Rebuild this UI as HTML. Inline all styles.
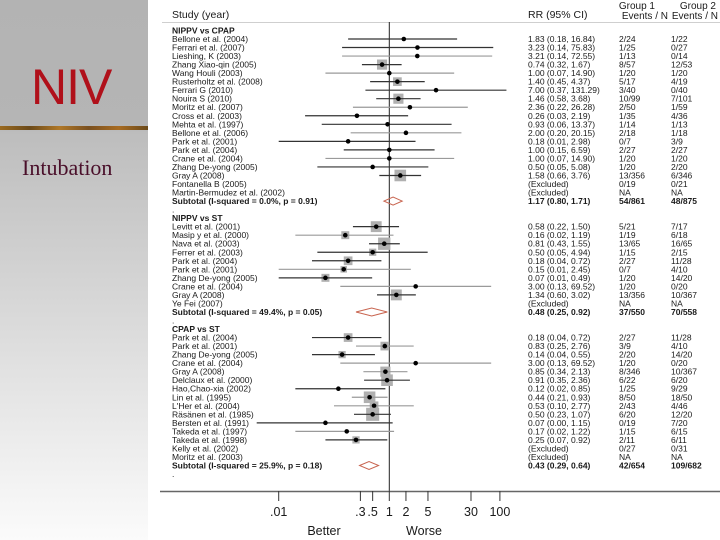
<!DOCTYPE html>
<html><head><meta charset="utf-8"><style>
html,body{margin:0;padding:0;background:#fff;}
#wrap{position:relative;width:720px;height:540px;overflow:hidden;font-family:"Liberation Sans",sans-serif;}
#side{position:absolute;left:0;top:0;width:148px;height:540px;background:linear-gradient(#b3b3b3 0px,#b5b5b5 127px,#bdbdbd 132px,#e6e6e6 400px,#fbfbfb 540px);}
#stripe{position:absolute;left:0;top:126px;width:148px;height:4px;background:linear-gradient(90deg,#9a6a20,#6b4a1a 20%,#b07828 40%,#7a5020 60%,#a86c22 80%,#6b4a1a);}
#niv{position:absolute;left:31px;top:58px;font-size:50px;color:#b0101a;letter-spacing:-1px;}
#intub{position:absolute;left:22px;top:155px;font-family:"Liberation Serif",serif;font-size:22px;color:#4a0f2a;}
svg{position:absolute;left:0;top:0;}
</style></head><body>
<div id="wrap">
<div id="side"></div>
<div id="stripe"></div>
<div id="niv">NIV</div>
<div id="intub">Intubation</div>
<svg id="plot" width="720" height="540"></svg>
</div>
<script>
const labels=["Bellone et al. (2004)","Ferrari et al. (2007)","Lieshing, K (2003)","Zhang Xiao-qin (2005)","Wang Houli (2003)","Rusterholtz et al. (2008)","Ferrari G (2010)","Nouira S (2010)","Moritz et al. (2007)","Cross et al. (2003)","Mehta et al. (1997)","Bellone et al. (2006)","Park et al. (2001)","Park et al. (2004)","Crane et al. (2004)","Zhang De-yong (2005)","Gray A (2008)","Fontanella B (2005)","Martin-Bermudez et al. (2002)","Subtotal  (I-squared = 0.0%, p = 0.91)",".","NIPPV vs ST","Levitt et al. (2001)","Masip y et al. (2000)","Nava et al. (2003)","Ferrer et al. (2003)","Park et al. (2004)","Park et al. (2001)","Zhang De-yong (2005)","Crane et al. (2004)","Gray A (2008)","Ye Fei (2007)","Subtotal  (I-squared = 49.4%, p = 0.05)",".","CPAP vs ST","Park et al. (2004)","Park et al. (2001)","Zhang De-yong (2005)","Crane et al. (2004)","Gray A (2008)","Delclaux et al. (2000)","Hao,Chao-xia (2002)","Lin et al. (1995)","L'Her et al. (2004)","Räsänen et al. (1985)","Bersten et al. (1991)","Takeda et al. (1997)","Takeda et al. (1998)","Kelly et al. (2002)","Moritz et al. (2003)","Subtotal  (I-squared = 25.9%, p = 0.18)","."];
const rr=[1.83,3.23,3.21,0.74,1.00,1.40,7.00,1.46,2.36,0.26,0.93,2.00,0.18,1.00,1.00,0.50,1.58,null,null,1.17,null,null,0.58,0.16,0.81,0.50,0.18,0.15,0.07,3.00,1.34,null,0.48,null,null,0.18,0.83,0.14,3.00,0.85,0.91,0.12,0.44,0.53,0.50,0.07,0.17,0.25,null,null,0.43,null];
const lo=[0.18,0.14,0.14,0.32,0.07,0.45,0.37,0.58,0.22,0.03,0.06,0.20,0.01,0.15,0.07,0.05,0.66,null,null,0.80,null,null,0.22,0.02,0.43,0.05,0.04,0.01,0.01,0.13,0.60,null,0.25,null,null,0.04,0.25,0.04,0.13,0.34,0.35,0.02,0.21,0.10,0.23,0.004,0.02,0.07,null,null,0.29,null];
const hi=[16.84,75.83,72.55,1.67,14.90,4.37,131.29,3.68,26.28,2.19,13.37,20.15,2.98,6.59,14.90,5.08,3.76,null,null,1.71,null,null,1.50,1.19,1.55,4.94,0.72,2.45,0.49,69.52,3.02,null,0.92,null,null,0.72,2.76,0.55,69.52,2.13,2.36,0.85,0.93,2.77,1.07,1.15,1.22,0.92,null,null,0.64,null];
const weights=[0,0,0,7,0,6,0,7,0,0,0,0,0,0,0,0,8,0,0,0,0,0,7.5,5.5,8.5,5,6,4.5,5.5,0,7.5,0,0,0,0,6,6,5,0,7,8,0,8,6,9,0,0,5,0,0,0,0];
const lightLine=[0,0,1,0,1,0,0,0,1,0,0,1,0,0,1,0,0,0,0,0,0,0,0,1,0,0,0,1,0,1,0,0,0,0,0,0,1,0,1,1,0,0,1,1,0,0,1,0,0,0,0,0];
const rrText=["1.83 (0.18, 16.84)","3.23 (0.14, 75.83)","3.21 (0.14, 72.55)","0.74 (0.32, 1.67)","1.00 (0.07, 14.90)","1.40 (0.45, 4.37)","7.00 (0.37, 131.29)","1.46 (0.58, 3.68)","2.36 (0.22, 26.28)","0.26 (0.03, 2.19)","0.93 (0.06, 13.37)","2.00 (0.20, 20.15)","0.18 (0.01, 2.98)","1.00 (0.15, 6.59)","1.00 (0.07, 14.90)","0.50 (0.05, 5.08)","1.58 (0.66, 3.76)","(Excluded)","(Excluded)","1.17 (0.80, 1.71)","","","0.58 (0.22, 1.50)","0.16 (0.02, 1.19)","0.81 (0.43, 1.55)","0.50 (0.05, 4.94)","0.18 (0.04, 0.72)","0.15 (0.01, 2.45)","0.07 (0.01, 0.49)","3.00 (0.13, 69.52)","1.34 (0.60, 3.02)","(Excluded)","0.48 (0.25, 0.92)","","","0.18 (0.04, 0.72)","0.83 (0.25, 2.76)","0.14 (0.04, 0.55)","3.00 (0.13, 69.52)","0.85 (0.34, 2.13)","0.91 (0.35, 2.36)","0.12 (0.02, 0.85)","0.44 (0.21, 0.93)","0.53 (0.10, 2.77)","0.50 (0.23, 1.07)","0.07 (0.00, 1.15)","0.17 (0.02, 1.22)","0.25 (0.07, 0.92)","(Excluded)","(Excluded)","0.43 (0.29, 0.64)",""];
const g1=["2/24","1/25","1/13","8/57","1/20","5/17","3/40","10/99","2/50","1/35","1/14","2/18","0/7","2/27","1/20","1/20","13/356","0/19","NA","54/861","","","5/21","1/19","13/65","1/15","2/27","0/7","1/20","1/20","13/356","NA","37/550","","","2/27","3/9","2/20","1/20","8/346","6/22","1/25","8/50","2/43","6/20","0/19","1/15","2/11","0/27","NA","42/654",""];
const g2=["1/22","0/27","0/14","12/53","1/20","4/19","0/40","7/101","1/59","4/36","1/13","1/18","3/9","2/27","1/20","2/20","6/346","0/21","NA","48/875","","","7/17","6/18","16/65","2/15","11/28","4/10","14/20","0/20","10/367","NA","70/558","","","11/28","4/10","14/20","0/20","10/367","6/20","9/29","18/50","4/46","12/20","7/20","6/15","6/11","0/31","NA","109/682",""];
const subtotalRows=[19,32,50];
const headerRows=[21,34];
const ticks=[0.01,0.3,0.5,1,2,5,30,100];
const tickLabels=[".01",".3",".5","1","2","5","30","100"];

const NS="http://www.w3.org/2000/svg";
const svg=document.getElementById('plot');
const X=v=>389.3+55.3*Math.log10(v);
const Y=i=>39+8.53*i;
const BOX_SCALE=1.45;
function mk(tag,attrs,parent){const e=document.createElementNS(NS,tag);for(const k in attrs)e.setAttribute(k,attrs[k]);(parent||svg).appendChild(e);return e;}
function txt(x,y,s,size,weight,anchor,fill){const t=mk('text',{x:x,y:y,'font-size':size,'font-weight':weight||'normal','text-anchor':anchor||'start',fill:fill||'#1a1a1a','font-family':'Liberation Sans, sans-serif'});t.textContent=s;return t;}

let e;
e=txt(172,18,"Study (year)",10.5);

e=txt(528,18,"RR (95% CI)",10.5);

e=txt(655,9,"Group 1",10,'normal','end');

e=txt(668,19,"Events / N",10,'normal','end');

e=txt(716,9,"Group 2",10,'normal','end');

e=txt(718,19,"Events / N",10,'normal','end');

e=mk('line',{x1:162,y1:22.5,x2:720,y2:22.5,stroke:'#cfcfcf','stroke-width':1});

e=txt(172,Y(-1)+3,"NIPPV vs CPAP",8.5,'bold');


e=mk('line',{x1:X(1),y1:22,x2:X(1),y2:491,stroke:'#222','stroke-width':1});


for(let i=0;i<labels.length;i++){
  const y=Y(i);
  const isSub=subtotalRows.includes(i), isHead=headerRows.includes(i);
  e=txt(172,y+3,labels[i],8.5,(isSub||isHead)?'bold':'normal');
  
  
  if(rrText[i]){e=txt(528,y+3,rrText[i],8.5,isSub?'bold':'normal');
    
    }
  if(g1[i]){e=txt(619,y+3,g1[i],8.5,isSub?'bold':'normal');
    
    }
  if(g2[i]){e=txt(671,y+3,g2[i],8.5,isSub?'bold':'normal');
    
    }
  if(rr[i]==null) continue;
  if(isSub){
    const pts=[[X(lo[i]),y],[X(rr[i]),y-4],[X(hi[i]),y],[X(rr[i]),y+4]].map(p=>p.join(',')).join(' ');
    e=mk('polygon',{points:pts,fill:'none',stroke:'#c8644f','stroke-width':1});
    
    
    continue;
  }
  const w=weights[i]*BOX_SCALE;
  if(w>0){e=mk('rect',{x:X(rr[i])-w/2,y:y-w/2,width:w,height:w,fill:'#b0b0b0'});
    
    }
  e=mk('line',{x1:X(lo[i]),y1:y,x2:X(hi[i]),y2:y,stroke:lightLine[i]?'#9a9a9a':'#333','stroke-width':1.2});
  
  
  e=mk('circle',{cx:X(rr[i]),cy:y,r:2.3,fill:'#000'});
  
  
}

e=mk('line',{x1:160,y1:491.5,x2:720,y2:491.5,stroke:'#666','stroke-width':1.5});

for(let k=0;k<ticks.length;k++){
  e=mk('line',{x1:X(ticks[k]),y1:491,x2:X(ticks[k]),y2:501,stroke:'#333','stroke-width':1});
  
  
  e=txt(X(ticks[k]),516,tickLabels[k],12.5,'normal','middle');
  
  
}
e=txt(324,535,"Better",12.5,'normal','middle');

e=txt(424,535,"Worse",12.5,'normal','middle');

</script>
</body></html>
